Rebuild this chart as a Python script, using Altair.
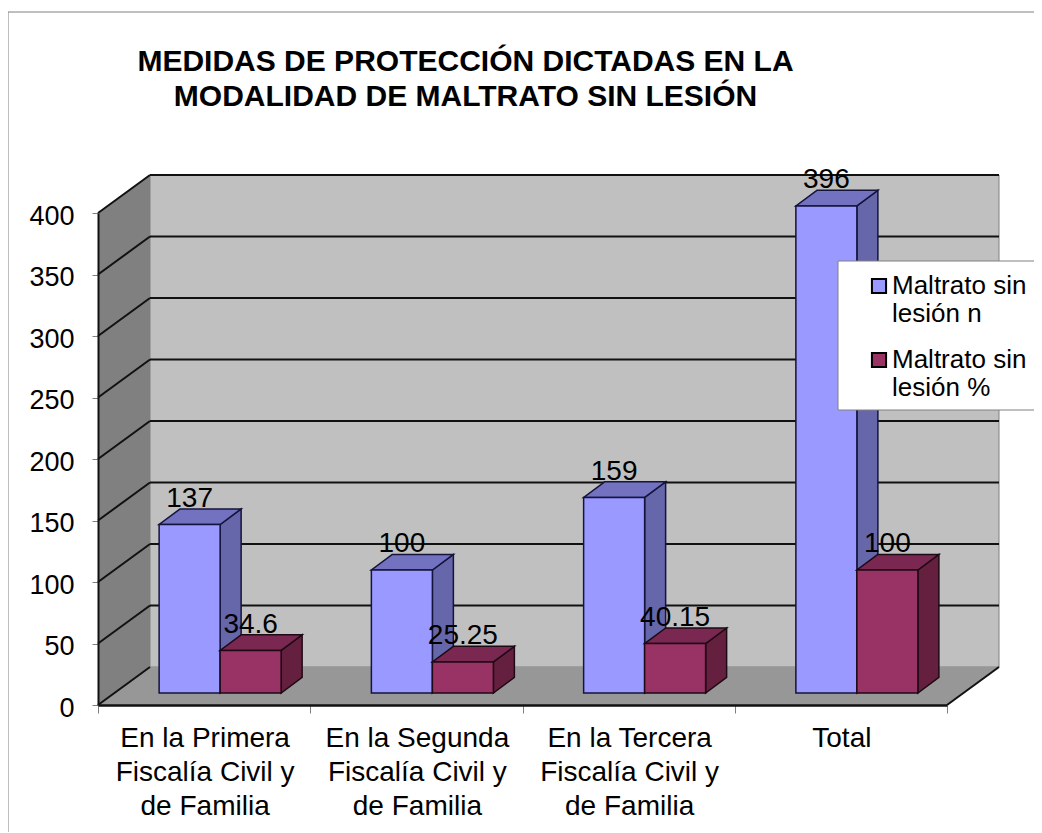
import altair as alt
import pandas as pd

# --- values
categories = ["En la Primera\nFiscalía Civil y\nde Familia",
              "En la Segunda\nFiscalía Civil y\nde Familia",
              "En la Tercera\nFiscalía Civil y\nde Familia",
              "Total"]
series_names = ["Maltrato sin\nlesión n", "Maltrato sin\nlesión %"]
values_n = [137, 100, 159, 396]
values_pct = [34.6, 25.25, 40.15, 100]
y_ticks = [0, 50, 100, 150, 200, 250, 300, 350, 400]
title_lines = ["MEDIDAS DE PROTECCIÓN DICTADAS EN LA",
               "MODALIDAD DE MALTRATO SIN LESIÓN"]

FONT = "Liberation Sans"
PLOT_W, PLOT_H = 849, 492
PAD_L, PAD_T = 90, 205
PX_X = PLOT_W / 4
PX_Y = PLOT_H / 400

# 3-D projection (in data units)
WALL_DX, WALL_DY = 52 / PX_X, 38 / PX_Y
FLOOR_DX, FLOOR_DY = 16 / PX_X, 12 / PX_Y
BAR_DX, BAR_DY = 21 / PX_X, 15.6 / PX_Y
BAR_W = 61 / PX_X

xs = alt.Scale(domain=[0, 4], nice=False, zero=False)
ys = alt.Scale(domain=[0, 400], nice=False, zero=False)
x_axis = alt.Axis(values=[0, 1, 2, 3, 4], labels=False, grid=False, tickSize=8, tickColor="#808080", tickWidth=1,
                  domainColor="#111111", domainWidth=2.5, zindex=1, title=None)
y_axis = alt.Axis(values=y_ticks, grid=False, tickSize=6, tickColor="#808080", tickWidth=1,
                  domainColor="#111111", domainWidth=2, zindex=1, title=None,
                  labelFont=FONT, labelFontSize=27, labelColor="#000000", labelPadding=18, labelOffset=3)
X = lambda f="x": alt.X(f"{f}:Q", scale=xs, axis=x_axis)
Y = lambda f="y": alt.Y(f"{f}:Q", scale=ys, axis=y_axis)

# Frame
frame_left = alt.Chart(pd.DataFrame({"a": [0]})).mark_rule(color="#808080", strokeWidth=1).encode(
    x=alt.value(-90), y=alt.value(-201), y2=alt.value(700))
frame_top = alt.Chart(pd.DataFrame({"a": [0]})).mark_rule(color="#808080", strokeWidth=1).encode(
    x=alt.value(-90), x2=alt.value(950), y=alt.value(-201))

# Back wall
wall = alt.Chart(pd.DataFrame({"x": [WALL_DX], "x2": [4 + WALL_DX], "y": [WALL_DY], "y2": [400 + WALL_DY]})).mark_rect(
    fill="#c0c0c0", stroke="#808080", strokeWidth=1
).encode(x=X(), x2="x2:Q", y=Y(), y2="y2:Q")

# Side wall and floor
side = alt.Chart(pd.DataFrame({"x": [0, WALL_DX], "y": [0, WALL_DY], "y2": [400, 400 + WALL_DY]})).mark_area(
    fill="#808080").encode(x=X(), y=Y(), y2="y2:Q")
floor = alt.Chart(pd.DataFrame({"y": [0, WALL_DY], "x": [0, WALL_DX], "x2": [4, 4 + WALL_DX]})).mark_area(
    fill="#979797", orient="horizontal").encode(y=Y(), x=X(), x2="x2:Q")

# Grid lines
grid_back = alt.Chart(pd.DataFrame({"v": [t + WALL_DY for t in y_ticks[1:]], "x": [WALL_DX] * 8, "x2": [4 + WALL_DX] * 8})).mark_rule(
    color="#111111", strokeWidth=2).encode(x=X(), x2="x2:Q", y=Y("v"))
diag_rows = []
for t in y_ticks:
    diag_rows += [{"t": t, "x": 0, "y": t}, {"t": t, "x": WALL_DX, "y": t + WALL_DY}]
grid_diag = alt.Chart(pd.DataFrame(diag_rows)).mark_line(color="#111111", strokeWidth=2).encode(
    x=X(), y=Y(), detail="t:N")
edge_right = alt.Chart(pd.DataFrame({"x": [4, 4 + WALL_DX], "y": [0, WALL_DY]})).mark_line(
    color="#111111", strokeWidth=2).encode(x=X(), y=Y())


def bar_layers(vals, offset, name, top, side_c, edge):
    lefts = [i + 0.5 + FLOOR_DX - BAR_W + offset * BAR_W for i in range(4)]
    base = FLOOR_DY
    s_rows, t_rows, f_rows = [], [], []
    for i, (l, v) in enumerate(zip(lefts, vals)):
        r = l + BAR_W
        s_rows += [{"c": i, "x": r, "y": base + v, "y2": base},
                   {"c": i, "x": r + BAR_DX, "y": base + v + BAR_DY, "y2": base + BAR_DY}]
        t_rows += [{"c": i, "y": base + v, "x": l, "x2": r},
                   {"c": i, "y": base + v + BAR_DY, "x": l + BAR_DX, "x2": r + BAR_DX}]
        f_rows.append({"s": name, "x": l, "x2": r, "y": base, "y2": base + v})
    side_l = alt.Chart(pd.DataFrame(s_rows)).mark_area(fill=side_c, stroke=edge, strokeWidth=1.5).encode(
        x=X(), y=Y(), y2="y2:Q", detail="c:N")
    top_l = alt.Chart(pd.DataFrame(t_rows)).mark_area(fill=top, stroke=edge, strokeWidth=1.5, orient="horizontal").encode(
        y=Y(), x=X(), x2="x2:Q", detail="c:N")
    front_l = alt.Chart(pd.DataFrame(f_rows)).mark_rect(stroke=edge, strokeWidth=1.5).encode(
        x=X(), x2="x2:Q", y=Y(), y2="y2:Q",
        color=alt.Color("s:N", scale=alt.Scale(domain=series_names, range=["#9999ff", "#993366"]),
                        legend=alt.Legend(
                            title=None, orient="none", legendX=768, legendY=60, padding=0,
                            symbolType="square", symbolSize=200, symbolStrokeColor="#000000", symbolStrokeWidth=2,
                            labelFont=FONT, labelFontSize=26, labelColor="#000000", labelLimit=300, labelOffset=0,
                            rowPadding=20,
                            labelExpr="split(datum.label, '\\n')")))
    return [side_l, top_l, front_l]


blue = bar_layers(values_n, 0, series_names[0], "#7272c0", "#6666aa", "#14143c")
red = bar_layers(values_pct, 1, series_names[1], "#7a2852", "#66203f", "#1e0a14")

# Data labels
lab_rows = []
for i, (a, b) in enumerate(zip(values_n, values_pct)):
    lab_rows.append({"x": i + 0.5 + FLOOR_DX - BAR_W / 2, "y": a + FLOOR_DY + BAR_DY, "t": str(a)})
    lab_rows.append({"x": i + 0.5 + FLOOR_DX + BAR_W / 2, "y": b + FLOOR_DY + BAR_DY, "t": str(b)})
labels = alt.Chart(pd.DataFrame(lab_rows)).mark_text(
    font=FONT, fontSize=28, color="#000000", baseline="alphabetic", align="center", dy=-2
).encode(x=X(), y=Y(), text="t:N")

# Category labels
cat_df = pd.DataFrame({"x": [i + 0.5 for i in range(4)], "t": categories})
cat_text = alt.Chart(cat_df).mark_text(
    font=FONT, fontSize=28, color="#000000", baseline="top", align="center", lineBreak="\n", lineHeight=34, dx=1
).encode(x=X(), y=alt.value(512), text="t:N")

# Legend box
legend_box = alt.Chart(pd.DataFrame({"a": [0]})).mark_rect(fill="#ffffff", stroke="#808080", strokeWidth=1).encode(
    x=alt.value(740), x2=alt.value(960), y=alt.value(48), y2=alt.value(197))

chart = alt.layer(
    frame_left, frame_top, wall, side, floor, grid_back, grid_diag, edge_right,
    *blue, *red, labels, cat_text, legend_box,
).properties(
    width=PLOT_W, height=PLOT_H,
    padding={"left": PAD_L, "top": PAD_T, "right": 87, "bottom": 127},
    autosize=alt.AutoSizeParams(type="none"),
    title=alt.TitleParams(text=title_lines, font=FONT, fontSize=30, fontWeight="bold", color="#000000",
                          anchor="middle", dx=-57, offset=-100, lineHeight=35),
).configure_view(stroke=None).configure(background="#ffffff")

chart.save("out.html", embed_options={"renderer": "svg", "actions": False})
